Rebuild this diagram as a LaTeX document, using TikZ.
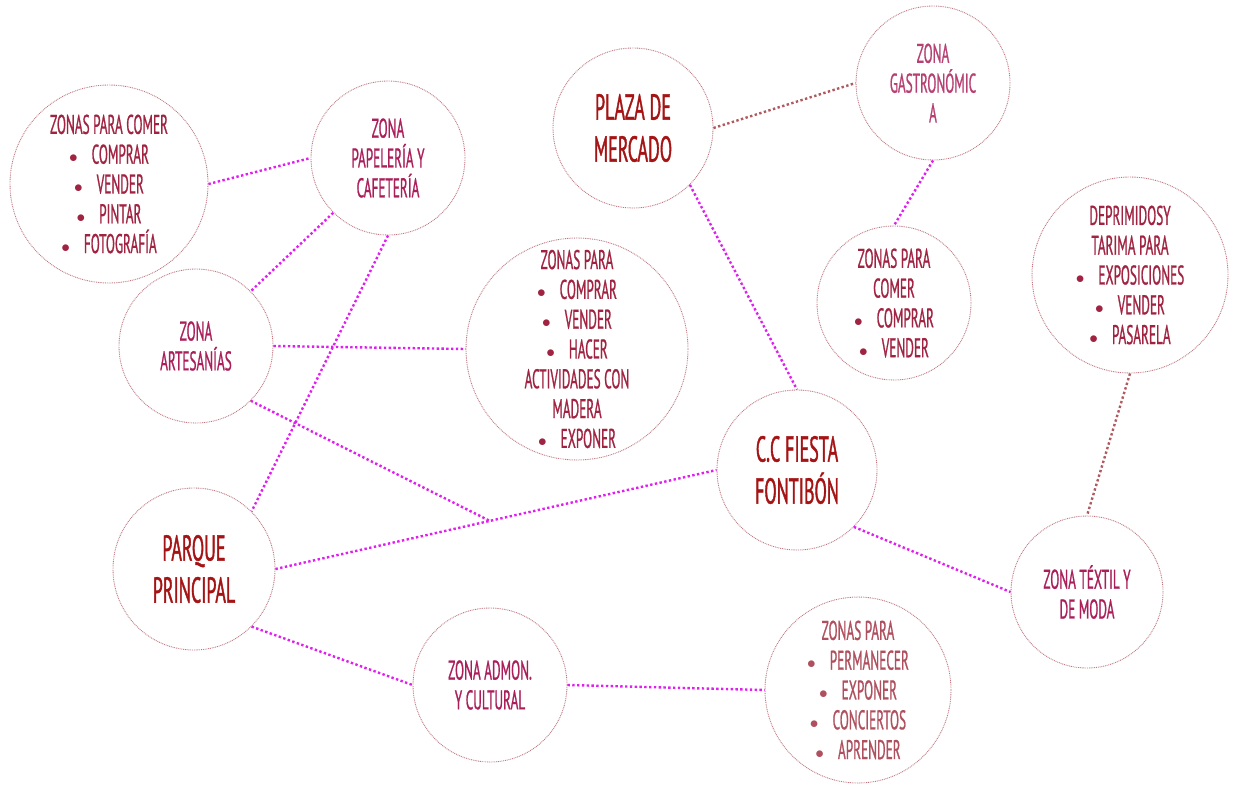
\documentclass[tikz,border=0pt]{standalone}
\usepackage{fontspec}
\usetikzlibrary{calc}
\newfontfamily\hand{PT Sans}[FakeStretch=0.49,FakeBold=0.8]
\newfontfamily\handT{PT Sans}[FakeStretch=0.50,FakeBold=1]
\definecolor{ringc}{RGB}{190,120,130}
\definecolor{magc}{RGB}{225,30,240}
\definecolor{brownc}{RGB}{175,90,95}
\definecolor{titlec}{RGB}{165,20,20}
\definecolor{zonec}{RGB}{170,30,90}
\definecolor{listc}{RGB}{160,35,65}
\definecolor{permc}{RGB}{175,80,95}
\newcommand{\bul}{\raisebox{1pt}{\fontsize{18}{18}\selectfont$\bullet$}\hspace{14pt}}
\tikzset{
  zone/.style={circle, draw=ringc, line width=0.9pt, dash pattern=on 0.9pt off 0.9pt, inner sep=0pt, minimum size=#1},
  txt/.style={align=center, inner sep=0pt, font=\hand\fontsize{27}{29.8}\selectfont},
  titletxt/.style={align=center, inner sep=0pt, text=titlec, font=\handT\fontsize{36}{42}\selectfont},
  link/.style={draw=magc, line width=2.4pt, dash pattern=on 2.4pt off 2.4pt},
  blink/.style={draw=brownc, line width=2.4pt, dash pattern=on 2.4pt off 2.4pt}
}
\begin{document}
\begin{tikzpicture}[x=1pt,y=-1pt]
\useasboundingbox (0,0) rectangle (1233,785);
% circles
\node[zone=198] (zc1) at (109,184) {};
\node[zone=154] (pap) at (388,158) {};
\node[zone=160] (plaza) at (633,128) {};
\node[zone=154] (gastro) at (933,83) {};
\node[zone=154] (zc2) at (894,303) {};
\node[zone=196] (dep) at (1130,275) {};
\node[zone=154] (art) at (196,346) {};
\node[zone=222] (zcomp) at (577,349) {};
\node[zone=160] (cc) at (797,470) {};
\node[zone=152] (tex) at (1087,592) {};
\node[zone=162] (parque) at (194,569) {};
\node[zone=154] (adm) at (490,685) {};
\node[zone=186] (perm) at (858,690) {};
% texts
\node[txt, text=listc] (zc1t) at (zc1) {ZONAS PARA COMER\\ \bul COMPRAR\\ \bul VENDER\\ \bul PINTAR\\ \bul FOTOGRAFÍA};
\node[txt, text=zonec] (papt) at (pap) {ZONA\\ PAPELERÍA Y\\ CAFETERÍA};
\node[titletxt] (plazat) at (plaza) {PLAZA DE\\ MERCADO};
\node[txt, text=zonec!85!white] (gastrot) at (gastro) {ZONA\\ GASTRONÓMIC\\ A};
\node[txt, text=listc] (zc2t) at (zc2) {ZONAS PARA\\ COMER\\ \bul COMPRAR\\ \bul VENDER};
\node[txt, text=listc] (dept) at (dep) {DEPRIMIDOSY\\ TARIMA PARA\\ \bul EXPOSICIONES\\ \bul VENDER\\ \bul PASARELA};
\node[txt, text=zonec] (artt) at (art) {ZONA\\ ARTESANÍAS};
\node[txt, text=listc] (zcompt) at (zcomp) {ZONAS PARA\\ \bul COMPRAR\\ \bul VENDER\\ \bul HACER\\ ACTIVIDADES CON\\ MADERA\\ \bul EXPONER};
\node[titletxt] (cct) at (cc) {C.C FIESTA\\ FONTIBÓN};
\node[txt, text=zonec] (text) at (tex) {ZONA TÉXTIL Y\\ DE MODA};
\node[titletxt] (parquet) at (parque) {PARQUE\\ PRINCIPAL};
\node[txt, text=zonec] (admt) at (adm) {ZONA ADMON.\\ Y CULTURAL};
\node[txt, text=permc] (permt) at (perm) {ZONAS PARA\\ \bul PERMANECER\\ \bul EXPONER\\ \bul CONCIERTOS\\ \bul APRENDER};
% connectors
\coordinate (j) at ($(parque.east)!0.486!(cc.west)$);
\draw[link] (zc1.east) -- (pap.west);
\draw[link] (pap.225) -- (art.45);
\draw[link] (pap.south) -- (parque.45);
\draw[link] (art.east) -- (zcomp.west);
\draw[link] (art.-45) -- (j);
\draw[link] (parque.east) -- (cc.west);
\draw[link] (parque.-45) -- (adm.west);
\draw[link] (adm.east) -- (perm.west);
\draw[link] (plaza.-45) -- (cc.north);
\draw[blink] (plaza.east) -- (gastro.west);
\draw[link] (gastro.south) -- (zc2.north);
\draw[link] (cc.-45) -- (tex.west);
\draw[blink] (dep.south) -- (tex.north);
\end{tikzpicture}
\end{document}
